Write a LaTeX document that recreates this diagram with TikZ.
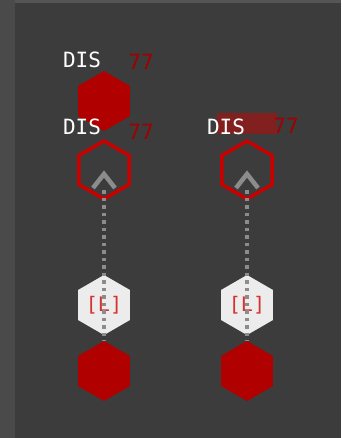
\documentclass[tikz,border=0pt]{standalone}
\usepackage{fontspec}
\setmonofont{DejaVu Sans Mono}
\usetikzlibrary{shapes.geometric}
\definecolor{panelbg}{HTML}{3C3C3C}
\definecolor{sidebar}{HTML}{4A4A4A}
\definecolor{topedge}{HTML}{555555}
\definecolor{hexred}{HTML}{B00000}
\definecolor{ringred}{HTML}{C80000}
\definecolor{numred}{HTML}{A00000}
\definecolor{markred}{HTML}{8A1C1C}
\definecolor{linkgray}{HTML}{8C8C8C}
\definecolor{chipwhite}{HTML}{ECECEC}
\definecolor{tagred}{HTML}{D83030}
\tikzset{
  hexbase/.style={regular polygon, regular polygon sides=6, shape border rotate=30, inner sep=0pt},
  hexfill/.style={hexbase, minimum size=60pt, fill=hexred},
  hexring/.style={hexbase, minimum size=58pt, draw=ringred, line width=3.5pt},
  hexchip/.style={hexbase, minimum size=60pt, fill=chipwhite, text=tagred, font=\ttfamily\fontsize{20}{20}\selectfont},
  lbl/.style={inner sep=0pt, text=white, font=\ttfamily\fontsize{21}{21}\selectfont},
  num/.style={inner sep=0pt, text=numred, font=\ttfamily\fontsize{21}{21}\selectfont},
  link/.style={draw=linkgray, line width=3.5pt, dash pattern=on 3.5pt off 4pt},
  chev/.style={draw=linkgray, line width=4.5pt, line join=miter},
}
\begin{document}
\begin{tikzpicture}[x=1pt,y=-1pt]
  % panel background, side bar and top edge
  \fill[panelbg] (0,0) rectangle (341,438);
  \fill[sidebar] (0,0) rectangle (15,438);
  \fill[topedge] (15,0) rectangle (341,3);
  \useasboundingbox (0,0) rectangle (341,438);

  % highlighted label backdrop on the right column
  \fill[markred, opacity=0.9] (217,113) rectangle (277,134);

  % left column
  \node[hexfill] (topL) at (104,101) {};
  \node[hexring] (ringL) at (104,170) {};
  \node[hexchip] (chipL) at (104,305) {[L]};
  \node[hexfill] (botL) at (104,371) {};
  \node[lbl] (disA) at (82,60) {DIS};
  \node[num] (numA) at (141,62) {77};
  \node[lbl] (disB) at (82,127) {DIS};
  \node[num] (numB) at (141,132) {77};

  % right column
  \node[hexring] (ringR) at (247,170) {};
  \node[hexchip] (chipR) at (247,305) {[L]};
  \node[hexfill] (botR) at (247,371) {};
  \node[lbl] (disC) at (226,127) {DIS};
  \node[num] (numC) at (286,126) {77};

  % dotted links with open chevron heads
  \coordinate (tipL) at (104,190);
  \coordinate (tipR) at (247,190);
  \draw[link] (tipL) -- (botL.north);
  \draw[link] (tipR) -- (botR.north);
  \draw[chev] (93,188) -- (104,174) -- (115,188);
  \draw[chev] (236,188) -- (247,174) -- (258,188);
\end{tikzpicture}
\end{document}
